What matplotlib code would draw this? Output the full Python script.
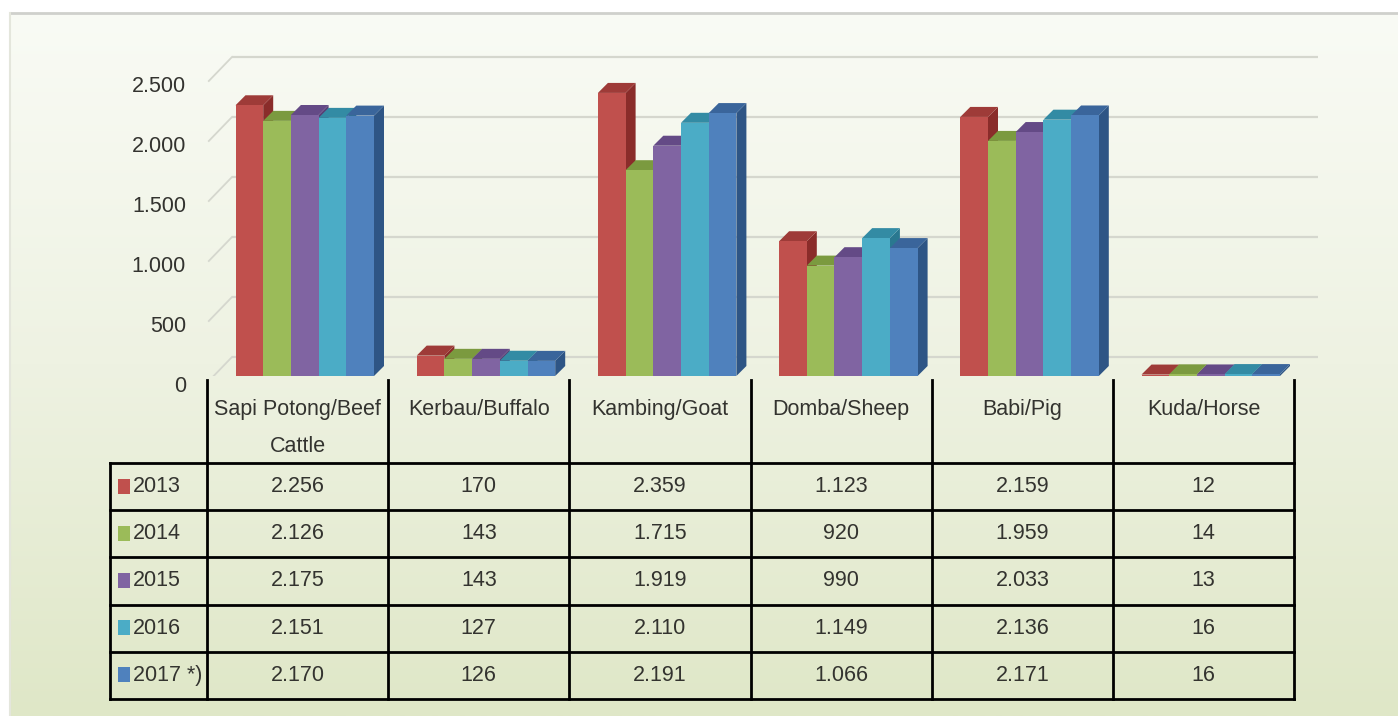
"""
3D-style clustered columns with a data table underneath (livestock population).
"""

import matplotlib as mpl

mpl.use("Agg")
import matplotlib.pyplot as plt
import numpy as np
from matplotlib.colors import LinearSegmentedColormap
from matplotlib.patches import Polygon, Rectangle

CATEGORIES = ["Sapi Potong/Beef\nCattle", "Kerbau/Buffalo", "Kambing/Goat",
              "Domba/Sheep", "Babi/Pig", "Kuda/Horse"]
YEARS = ["2013", "2014", "2015", "2016", "2017 *)"]
V2013 = [2256, 170, 2359, 1123, 2159, 12]
V2014 = [2126, 143, 1715, 920, 1959, 14]
V2015 = [2175, 143, 1919, 990, 2033, 13]
V2016 = [2151, 127, 2110, 1149, 2136, 16]
V2017 = [2170, 126, 2191, 1066, 2171, 16]
SERIES = [V2013, V2014, V2015, V2016, V2017]
Y_TICKS = [0, 500, 1000, 1500, 2000, 2500]

# front, top, side
COLORS = [
    ("#c0504d", "#9e3b38", "#8a2c2a"),
    ("#9bbb59", "#7b9a3f", "#6a8635"),
    ("#8064a2", "#644a86", "#573f76"),
    ("#4bacc6", "#338ba4", "#2a7890"),
    ("#4f81bd", "#3a659b", "#2e5585"),
]

FONT = ["Liberation Sans", "DejaVu Sans"]
FS = 15.5
TEXT_COLOR = "#33332f"
GRID_COLOR = "#d5d7ce"

W, H = 1398, 716
CAT_PX = 181.2          # width of one category column in pixels
X0_PX = 207             # left edge of first category column
PX_PER_UNIT = 0.12      # vertical scale of the value axis
BASE_PX = 376           # pixel row of value 0 on the front plane


def fmt(v):
    return f"{v:,}".replace(",", ".")


def draw_background(fig):
    ax = fig.add_axes([0, 0, 1, 1])
    ax.set_xlim(0, W)
    ax.set_ylim(H, 0)
    ax.axis("off")
    cmap = LinearSegmentedColormap.from_list("bg", ["#f9fbf5", "#eef2e2", "#dfe7c7"])
    grad = np.linspace(0, 1, 256).reshape(-1, 1)
    ax.imshow(grad, cmap=cmap, aspect="auto", extent=[10, W, H, 13], zorder=0)
    ax.plot([10, W], [13, 13], color="#cfd0cc", lw=2, zorder=1)
    ax.plot([10, 10], [13, H], color="#e4e6dc", lw=1.5, zorder=1)


def draw_chart(fig):
    left, right, top = 100, 1340, 30
    ax = fig.add_axes([left / W, (H - BASE_PX) / H, (right - left) / W, (BASE_PX - top) / H])
    ax.set_xlim((left - X0_PX) / CAT_PX, (right - X0_PX) / CAT_PX)
    ax.set_ylim(0, (BASE_PX - top) / PX_PER_UNIT)
    ax.axis("off")

    ux = 1 / CAT_PX
    uy = 1 / PX_PER_UNIT

    # back wall and side wall gridlines
    back_dx, back_dy = 25 * ux, 19 * uy
    x_end = (1318 - X0_PX) / CAT_PX
    for v in Y_TICKS:
        ax.plot([back_dx, x_end], [v + back_dy, v + back_dy], color=GRID_COLOR, lw=1.6, zorder=1,
                solid_capstyle="butt")
        ax.plot([0.01, back_dx], [v - 5 * uy, v + back_dy], color=GRID_COLOR, lw=1.3, zorder=1)
        ax.text(-21 * ux, v - 10 * uy, fmt(v), ha="right", va="center", fontsize=FS,
                color=TEXT_COLOR, family=FONT)

    # columns
    bw = 27.7 * ux
    start = 28.5 * ux
    dx, dy = 10 * ux, 10 * uy
    z = 2
    for i in range(len(CATEGORIES)):
        for j, values in enumerate(SERIES):
            v = values[i]
            x = i + start + j * bw
            front, topc, side = COLORS[j]
            ax.add_patch(Polygon([(x + bw, 0), (x + bw, v), (x + bw + dx, v + dy), (x + bw + dx, dy)],
                                 closed=True, facecolor=side, edgecolor="none", zorder=z))
            ax.add_patch(Polygon([(x, v), (x + bw, v), (x + bw + dx, v + dy), (x + dx, v + dy)],
                                 closed=True, facecolor=topc, edgecolor="none", zorder=z))
            ax.bar(x, v, width=bw, align="edge", color=front, edgecolor="none", zorder=z + 1)
            z += 2


def draw_table(fig):
    left, right = 100, 1340
    ax = fig.add_axes([left / W, 0, (right - left) / W, (H - BASE_PX) / H])
    ax.set_xlim((left - X0_PX) / CAT_PX, (right - X0_PX) / CAT_PX)
    ax.set_ylim(H, BASE_PX)
    ax.axis("off")

    ux = 1 / CAT_PX
    n = len(CATEGORIES)
    x_left = (110 - X0_PX) / CAT_PX
    header_top, header_bottom = 380, 463
    row_h = 47.2
    rows = [header_bottom + k * row_h for k in range(len(YEARS) + 1)]

    lw = 2.0
    for y in rows:
        ax.plot([x_left, n], [y, y], color="black", lw=lw, solid_capstyle="projecting")
    for i in range(n + 1):
        ax.plot([i, i], [header_top, rows[-1]], color="black", lw=lw, solid_capstyle="projecting")
    ax.plot([x_left, x_left], [header_bottom, rows[-1]], color="black", lw=lw,
            solid_capstyle="projecting")

    for i, name in enumerate(CATEGORIES):
        ax.text(i + 0.5, 399, name, ha="center", va="top", fontsize=FS, color=TEXT_COLOR,
                family=FONT, linespacing=2.0)

    for j, (year, values) in enumerate(zip(YEARS, SERIES)):
        y_mid = (rows[j] + rows[j + 1]) / 2
        ax.add_patch(Rectangle(((118 - X0_PX) * ux, y_mid - 8), 12 * ux, 15,
                               facecolor=COLORS[j][0], edgecolor="none"))
        ax.text((133 - X0_PX) * ux, y_mid, year, ha="left", va="center", fontsize=FS,
                color=TEXT_COLOR, family=FONT)
        for i, v in enumerate(values):
            ax.text(i + 0.5, y_mid, fmt(v), ha="center", va="center", fontsize=FS,
                    color=TEXT_COLOR, family=FONT)


def main():
    fig = plt.figure(figsize=(W / 100, H / 100), dpi=100)
    fig.patch.set_facecolor("white")
    draw_background(fig)
    draw_chart(fig)
    draw_table(fig)
    fig.savefig("out.png", dpi=100)
    plt.close(fig)


if __name__ == "__main__":
    main()
